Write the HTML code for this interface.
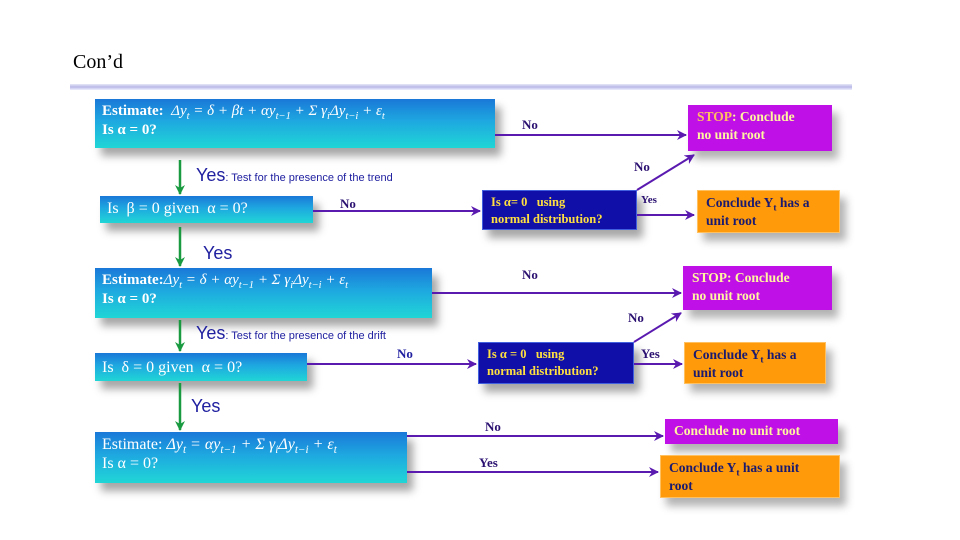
<!DOCTYPE html>
<html><head><meta charset="utf-8"><style>
body{margin:0;width:960px;height:540px;background:#fff;position:relative;overflow:hidden;font-family:"Liberation Serif",serif}
sub{line-height:0;font-size:70%}
.b{position:absolute;background:linear-gradient(180deg,#1a78d8 0%,#1ea8e0 45%,#20d6d6 100%);color:#fff;box-shadow:6px 8px 8px rgba(0,0,0,.35);font-size:15px;line-height:19px;padding:3px 7px;box-sizing:border-box}
.d{position:absolute;background:#1010a8;color:#ffe040;font-weight:bold;font-size:12.5px;line-height:17px;padding:3px 8px;box-sizing:border-box;box-shadow:6px 8px 8px rgba(0,0,0,.35);border:1px solid #4060e0}
.m{position:absolute;background:#c010e8;color:#fff6a0;font-weight:bold;font-size:13.5px;line-height:18px;padding:3px 9px;box-sizing:border-box;box-shadow:6px 8px 8px rgba(0,0,0,.3)}
.o{position:absolute;background:#ff9a0a;color:#1a1a70;font-weight:bold;font-size:13.5px;line-height:18px;padding:3px 8px;box-sizing:border-box;box-shadow:6px 8px 8px rgba(0,0,0,.3);border:1px solid #ffc060}
.l{position:absolute;color:#2a1070;font-weight:bold;font-size:13px}
.y{position:absolute;color:#2020a0;font-family:"Liberation Sans",sans-serif;font-size:18px}
.y small{font-size:11px}
i{font-style:italic}
</style></head><body>
<div style="position:absolute;left:73px;top:51px;font-size:20px">Con’d</div>
<div style="position:absolute;left:70px;top:84px;width:782px;height:6px;background:linear-gradient(180deg,#e8e8f8,#b8b8e8,#f0f0ff)"></div>

<div class="b" style="left:95px;top:99px;width:400px;height:49px"><b>Estimate:</b> &nbsp;<i>Δy<sub>t</sub> = δ + βt + αy<sub>t−1</sub> + Σ γ<sub>i</sub>Δy<sub>t−i</sub> + ε<sub>t</sub></i><br><b>Is α = 0?</b></div>
<div class="b" style="left:100px;top:196px;width:213px;height:27px;font-size:16px">Is &nbsp;β = 0 given &nbsp;α = 0?</div>
<div class="b" style="left:95px;top:268px;width:337px;height:50px"><b>Estimate:</b><i>Δy<sub>t</sub> = δ + αy<sub>t−1</sub> + Σ γ<sub>i</sub>Δy<sub>t−i</sub> + ε<sub>t</sub></i><br><b>Is α = 0?</b></div>
<div class="b" style="left:95px;top:353px;width:212px;height:28px;font-size:16px;padding-top:5px">Is &nbsp;δ = 0 given &nbsp;α = 0?</div>
<div class="b" style="left:95px;top:432px;width:312px;height:51px;font-size:16px">Estimate: <i>Δy<sub>t</sub> = αy<sub>t−1</sub> + Σ γ<sub>i</sub>Δy<sub>t−i</sub> + ε<sub>t</sub></i><br>Is α = 0?</div>

<div class="d" style="left:482px;top:190px;width:155px;height:40px">Is α= 0 &nbsp;&nbsp;using<br>normal distribution?</div>
<div class="d" style="left:478px;top:342px;width:156px;height:42px">Is α = 0 &nbsp;&nbsp;using<br>normal distribution?</div>

<div class="m" style="left:688px;top:105px;width:144px;height:46px"><span style="color:#ffc060">STOP</span>: Conclude<br>no unit root</div>
<div class="m" style="left:683px;top:266px;width:149px;height:44px">STOP: Conclude<br>no unit root</div>
<div class="m" style="left:665px;top:419px;width:173px;height:25px">Conclude no unit root</div>
<div class="o" style="left:697px;top:190px;width:143px;height:43px">Conclude Y<sub>t</sub> has a<br>unit root</div>
<div class="o" style="left:684px;top:342px;width:142px;height:42px">Conclude Y<sub>t</sub> has a<br>unit root</div>
<div class="o" style="left:660px;top:455px;width:180px;height:43px">Conclude Y<sub>t</sub> has a unit<br>root</div>

<svg width="960" height="540" style="position:absolute;left:0;top:0">
<defs><marker id="p" markerUnits="userSpaceOnUse" markerWidth="10" markerHeight="10" refX="9" refY="5" orient="auto"><path d="M0,0 L10,5 L0,10 L3,5z" fill="#5a1ab0"/></marker>
<marker id="g" markerUnits="userSpaceOnUse" markerWidth="10" markerHeight="10" refX="9" refY="5" orient="auto"><path d="M0,0 L10,5 L0,10 L3,5z" fill="#1a9a40"/></marker></defs>
<g stroke="#5a1ab0" stroke-width="2" fill="none" marker-end="url(#p)">
<line x1="495" y1="135" x2="686" y2="135"/>
<line x1="313" y1="211" x2="480" y2="211"/>
<line x1="637" y1="190" x2="694" y2="155"/>
<line x1="637" y1="215" x2="694" y2="215"/>
<line x1="432" y1="293" x2="681" y2="293"/>
<line x1="307" y1="364" x2="476" y2="364"/>
<line x1="634" y1="342" x2="681" y2="313"/>
<line x1="634" y1="364" x2="682" y2="364"/>
<line x1="407" y1="436" x2="663" y2="436"/>
<line x1="407" y1="472" x2="658" y2="472"/>
</g>
<g stroke="#1a9a40" stroke-width="2.5" marker-end="url(#g)">
<line x1="180" y1="160" x2="180" y2="194"/>
<line x1="180" y1="227" x2="180" y2="266"/>
<line x1="180" y1="320" x2="180" y2="351"/>
<line x1="180" y1="383" x2="180" y2="430"/>
</g></svg>

<div class="l" style="left:522px;top:117px">No</div>
<div class="l" style="left:340px;top:196px">No</div>
<div class="l" style="left:634px;top:159px">No</div>
<div class="l" style="left:641px;top:194px;font-size:11px">Yes</div>
<div class="l" style="left:522px;top:267px">No</div>
<div class="l" style="left:628px;top:310px">No</div>
<div class="l" style="left:397px;top:346px;color:#2020a0">No</div>
<div class="l" style="left:641px;top:346px">Yes</div>
<div class="l" style="left:485px;top:419px">No</div>
<div class="l" style="left:479px;top:455px">Yes</div>
<div class="y" style="left:196px;top:165px">Yes<small>: Test for the presence of the trend</small></div>
<div class="y" style="left:203px;top:243px">Yes</div>
<div class="y" style="left:196px;top:323px">Yes<small>: Test for the presence of the drift</small></div>
<div class="y" style="left:191px;top:396px">Yes</div>
</body></html>
